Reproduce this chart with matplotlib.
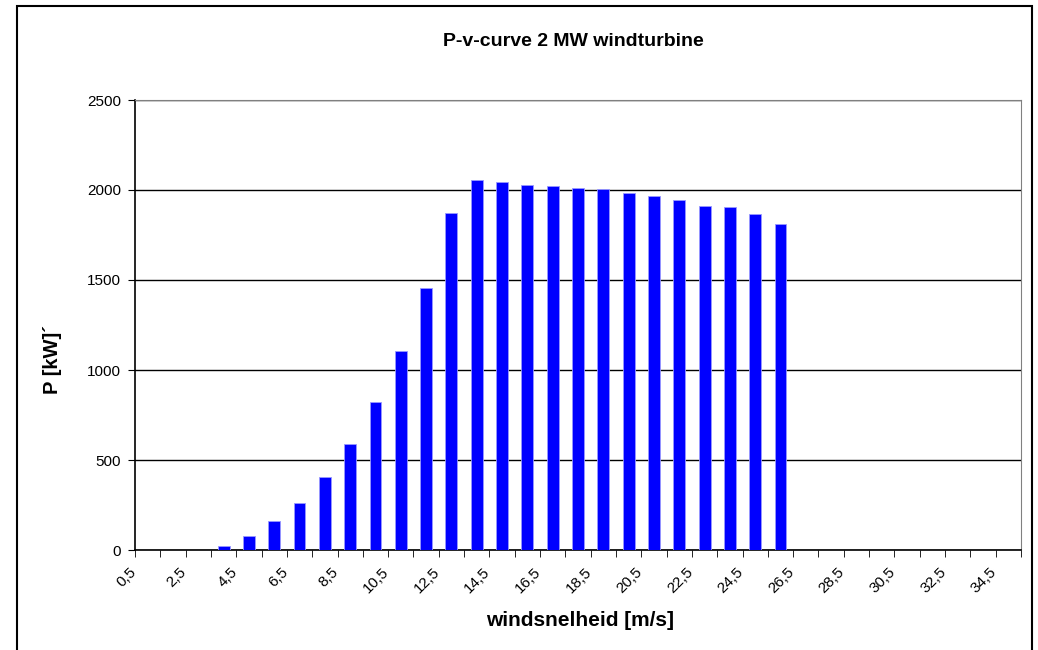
import matplotlib.pyplot as plt
from matplotlib.patches import Rectangle
from matplotlib.transforms import ScaledTranslation

# wind speed categories [m/s] and power [kW]
speeds = [0.5, 1.5, 2.5, 3.5, 4.5, 5.5, 6.5, 7.5, 8.5, 9.5, 10.5, 11.5,
          12.5, 13.5, 14.5, 15.5, 16.5, 17.5, 18.5, 19.5, 20.5, 21.5, 22.5,
          23.5, 24.5, 25.5, 26.5, 27.5, 28.5, 29.5, 30.5, 31.5, 32.5, 33.5, 34.5]
power = [0, 0, 0, 24, 78, 163, 263, 403, 589, 822, 1107, 1456,
         1872, 2057, 2042, 2027, 2020, 2011, 2004, 1981, 1967, 1943, 1911,
         1904, 1867, 1811, 0, 0, 0, 0, 0, 0, 0, 0, 0]

title = "P-v-curve 2 MW windturbine"
xlabel = "windsnelheid [m/s]"
ylabel = "P [kW]´"

plt.rcParams['font.family'] = ['Liberation Sans', 'DejaVu Sans']

fig = plt.figure(figsize=(10.38, 6.5), dpi=100)

# outer chart frame
fig.patches.append(Rectangle((17 / 1038, -0.05), (1032 - 17) / 1038, 1.05 - 5.5 / 650,
                             transform=fig.transFigure, fill=False,
                             edgecolor="black", linewidth=1.5))

ax = fig.add_axes([135 / 1038, 100 / 650, (1021 - 135) / 1038, 450 / 650])

pos = list(range(len(speeds)))
ax.bar(pos, power, width=0.47, color="#0000FF", edgecolor="#9999ff",
       linewidth=0.6, zorder=3)

ax.set_xlim(-0.5, len(speeds) - 0.5)
ax.set_ylim(0, 2500)
ax.set_yticks([0, 500, 1000, 1500, 2000, 2500])
ax.yaxis.grid(True, color="black", linewidth=1, zorder=1)
ax.tick_params(axis="y", direction="out", length=5, labelsize=11, pad=5)

# labels on every other category, tick marks between categories
lab_pos = pos[::2]
ax.set_xticks(lab_pos)
ax.set_xticklabels([f"{s:g}".replace(".", ",") for s in speeds[::2]],
                   rotation=45, ha="right", rotation_mode="anchor", fontsize=11)
ax.tick_params(axis="x", which="major", length=0, pad=11)
shift = ScaledTranslation(-19 / 100, 0, fig.dpi_scale_trans)
for lbl in ax.get_xticklabels():
    lbl.set_transform(lbl.get_transform() + shift)
ax.set_xticks([p - 0.5 for p in pos] + [len(pos) - 0.5], minor=True)
ax.tick_params(axis="x", which="minor", direction="out", length=5)

for s in ["top", "right"]:
    ax.spines[s].set_color("#808080")
for s in ["left", "bottom"]:
    ax.spines[s].set_color("black")
    ax.spines[s].set_linewidth(1.2)

fig.text(573 / 1038, 1 - 42 / 650, title, ha="center", va="center",
         fontsize=14, fontweight="bold")
fig.text(580 / 1038, 1 - 620 / 650, xlabel, ha="center", va="center",
         fontsize=15, fontweight="bold")
fig.text(53 / 1038, 1 - 359 / 650, ylabel, ha="center", va="center",
         fontsize=14.5, fontweight="bold", rotation=90)

fig.savefig("out.png", dpi=100)
